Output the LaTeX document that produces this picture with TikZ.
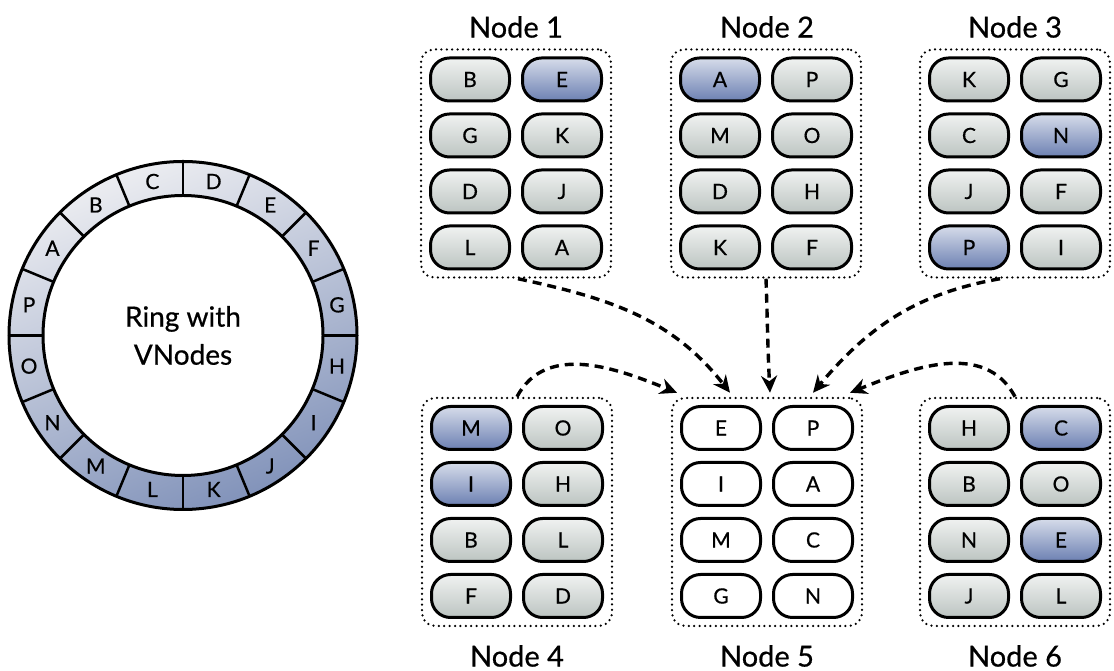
\documentclass[tikz,border=0pt]{standalone}
\usepackage{fontspec}
\setmainfont{Lato}[FakeBold=0.6]
\usetikzlibrary{arrows.meta,calc}
\definecolor{greytop}{HTML}{F0F2F1}
\definecolor{greybot}{HTML}{BCC4C1}
\definecolor{bluetop}{HTML}{D6DCEA}
\definecolor{bluebot}{HTML}{6C80B2}
\definecolor{ringlight}{HTML}{ECEDF1}
\definecolor{ringdark}{HTML}{8293BA}
\tikzset{
  pillbase/.style={draw=black, line width=3pt, rounded corners=19pt,
    minimum width=79pt, minimum height=43pt, inner sep=0pt,
    font=\fontsize{21}{21}\selectfont},
  gpill/.style={pillbase, top color=greytop, bottom color=greybot},
  bpill/.style={pillbase, top color=bluetop, bottom color=bluebot},
  wpill/.style={pillbase, fill=white},
  groupbox/.style={draw=black, line width=2.5pt, line cap=round,
    dash pattern=on 0pt off 5.4pt, rounded corners=13pt,
    minimum width=190pt, minimum height=228pt, inner sep=0pt},
  grouptitle/.style={font=\fontsize{29}{29}\selectfont, inner sep=0pt},
  ringlabel/.style={font=\fontsize{21}{21}\selectfont, inner sep=0pt},
  flow/.style={line width=3.4pt, dash pattern=on 9pt off 6pt,
    -{Stealth[length=17pt, width=16pt]}},
}
% one physical node: dotted frame plus its eight vnodes
\newcommand\vgroup[4]{%
  \node[groupbox] (box#1) at (#2,#3) {};
  \foreach \lt/\st [count=\i from 0] in {#4} {
    \pgfmathsetmacro\px{#2+(mod(\i,2)==0 ? -46 : 46)}
    \pgfmathsetmacro\py{#3+84-56*int(\i/2)}
    \node[\st] (v#1-\i) at (\px,\py) {\lt};
  }%
}
\begin{document}
\begin{tikzpicture}[x=1pt, y=1pt]
\useasboundingbox (0,0) rectangle (1114,671);

% ---- the hash ring ----
\coordinate (rc) at (183,335.5);
\shade[top color=ringlight, bottom color=ringdark, shading angle=22]
  (rc) circle[radius=174];
\draw[line width=3pt] (rc) circle[radius=174];
\draw[line width=3pt, fill=white] (rc) circle[radius=140];
\foreach \k in {0,...,15}
  \draw[line width=2.5pt] ($(rc)+(90+22.5*\k:140)$) -- ($(rc)+(90+22.5*\k:174)$);
\foreach \l [count=\i from 0] in {D,E,F,G,H,I,J,K,L,M,N,O,P,A,B,C}
  \node[ringlabel] (r\l) at ($(rc)+(78.75-22.5*\i:157)$) {\l};
\node[font=\fontsize{28}{38}\selectfont, align=center] (ringtext) at (rc) {Ring with\\VNodes};

% ---- the six physical nodes and their vnodes ----
\vgroup{1}{516}{507.5}{B/gpill,E/bpill,G/gpill,K/gpill,D/gpill,J/gpill,L/gpill,A/gpill}
\vgroup{2}{766}{507.5}{A/bpill,P/gpill,M/gpill,O/gpill,D/gpill,H/gpill,K/gpill,F/gpill}
\vgroup{3}{1015}{507.5}{K/gpill,G/gpill,C/gpill,N/bpill,J/gpill,F/gpill,P/bpill,I/gpill}
\vgroup{4}{517}{159}{M/bpill,O/gpill,I/bpill,H/gpill,B/gpill,L/gpill,F/gpill,D/gpill}
\vgroup{5}{767}{159}{E/wpill,P/wpill,I/wpill,A/wpill,M/wpill,C/wpill,G/wpill,N/wpill}
\vgroup{6}{1015}{159}{H/gpill,C/bpill,B/gpill,O/gpill,N/gpill,E/bpill,J/gpill,L/gpill}

\node[grouptitle] (title1) at (516,644) {Node 1};
\node[grouptitle] (title2) at (767,644) {Node 2};
\node[grouptitle] (title3) at (1015,644) {Node 3};
\node[grouptitle] (title4) at (517,15) {Node 4};
\node[grouptitle] (title5) at (767,15) {Node 5};
\node[grouptitle] (title6) at (1015,15) {Node 6};

% ---- transfers into Node 5 ----
\coordinate (in1) at ([xshift=-90pt, yshift=4pt]box5.north);
\coordinate (in2) at ([xshift=-37pt, yshift=4pt]box5.north);
\coordinate (in3) at ([xshift=3pt, yshift=4pt]box5.north);
\coordinate (in4) at ([xshift=46pt, yshift=4pt]box5.north);
\coordinate (in5) at ([xshift=83pt, yshift=4pt]box5.north);

\draw[flow] ([xshift=2pt]box1.south) to[out=-12, in=128] (in2);
\draw[flow] (box2.south) to[out=-88, in=93] (in3);
\draw[flow] ([xshift=-15pt]box3.south) to[out=190, in=50] (in4);
\draw[flow] (box4.north) to[out=62, in=158] (in1);
\draw[flow] (box6.north) to[out=118, in=22] (in5);
\end{tikzpicture}
\end{document}
